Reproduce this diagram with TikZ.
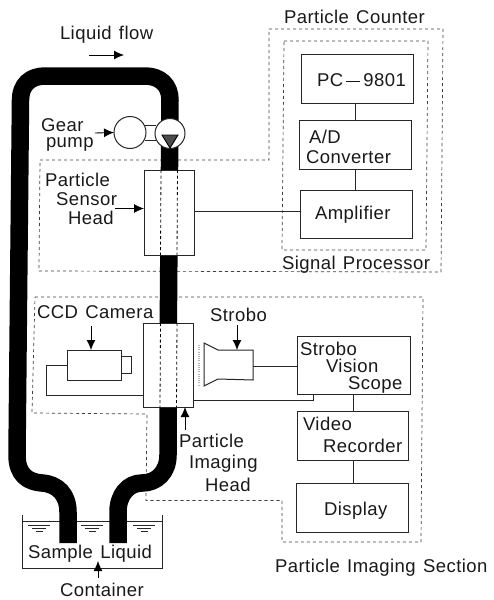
\documentclass[tikz,border=0pt]{standalone}
\usepackage{fontspec}
\setmainfont{Liberation Sans}[LetterSpace=2.5,WordSpace=1.3]
\usetikzlibrary{arrows.meta}
\tikzset{
 lbl/.style={anchor=base west,inner sep=0pt,outer sep=0pt,font=\fontsize{18.5}{22}\selectfont,text=black!90},
 blockbox/.style={draw=black!85,line width=1pt,fill=white,inner sep=0pt,outer sep=0pt},
 dashbox/.style={draw=black!75,line width=.7pt,dash pattern=on 3.2pt off 2.8pt},
 pipe/.style={draw=black,line width=17.5pt,line cap=butt,line join=round},
 conn/.style={draw=black!85,line width=.9pt},
 arr/.style={draw=black,line width=.9pt,-{Latex[length=10pt,width=9pt]}},
 ripple/.style={draw=black!85,line width=.8pt},
 bore/.style={draw=black,line width=.8pt,dash pattern=on 3pt off 2.5pt},
}
\begin{document}
\begin{tikzpicture}[x=1pt,y=-1pt]
\useasboundingbox (0,0) rectangle (494,600);
% dashed enclosures
\draw[dashbox] (40,160) -- (269,160) -- (269,29) -- (443,29) -- (441,272) -- (39,271) -- cycle;
\draw[dashbox] (284,41) -- (428,41) -- (426,250) -- (282,250) -- cycle;
\draw[dashbox] (35,297) -- (423,297) -- (421,542) -- (282,542) -- (282,500.5) -- (146,500.5) -- (147,414) -- (32,413) -- cycle;
% container
\coordinate (cTL) at (22,515); \coordinate (cBL) at (22,568);
\coordinate (cTR) at (162,515); \coordinate (cBR) at (162,568);
\draw[conn] (cTL) -- (cBL) -- (cBR) -- (cTR);
\draw[conn] (22,521) -- (162,521);
\foreach \c in {39,92,144}{
 \draw[ripple] (\c-11,525) -- (\c+11,525);
 \draw[ripple] (\c-7,528) -- (\c+7,528);
 \draw[ripple] (\c-3.5,531) -- (\c+3.5,531);
}
% pipe
\draw[pipe] (68,543) -- (68,512) .. controls (68,495) and (58,484) .. (42,483)
 .. controls (28,482) and (17,475) .. (17,455) -- (18.5,300) -- (20.5,100)
 .. controls (20.5,85) and (30,76) .. (45,76) -- (145,76)
 .. controls (160,76) and (170,85) .. (170,100) -- (168.5,300) -- (168,455)
 .. controls (168,472) and (157,483) .. (142,483)
 .. controls (128,483) and (118,495) .. (118,512) -- (118,543);
% pump
\node[blockbox,circle,minimum size=32pt] (pumpL) at (130,132.5) {};
\draw[conn] (145,125) -- (156,125);
\draw[conn] (145,140) -- (156,140);
\node[blockbox,circle,minimum size=30pt] (pumpR) at (170,133.5) {};
\fill[black!70] (162,135) -- (178,135) -- (170,148) -- cycle;
\draw[black,line width=.9pt] (162,135) -- (178,135) -- (170,148) -- cycle;
% heads
\node[blockbox,minimum width=50pt,minimum height=85pt] (sensor) at (169,212.5) {};
\node[blockbox,minimum width=50pt,minimum height=84pt] (imaging) at (168.5,365) {};
\draw[bore] (161,170) -- (160.5,255);
\draw[bore] (177.5,170) -- (177,255);
\draw[bore] (160.5,323) -- (160,407);
\draw[bore] (177,323) -- (176.5,407);
% camera
\node[blockbox,minimum width=54pt,minimum height=30pt] (cam) at (94,365) {};
\node[blockbox,minimum width=10pt,minimum height=17pt,anchor=west] (lens) at (cam.east |- 0,364.5) {};
\draw[conn] (cam.west) -- (46,365) -- (46,395.5) -- (imaging.west |- 0,395.5);
% strobo lamp
\draw[blockbox] (204,343) -- (218,350) -- (253,350) -- (253,380) -- (218,379) -- (204,386) -- cycle;
\coordinate (lampR) at (253,366.5);
\draw[black!30,line width=1.6pt,dash pattern=on 1pt off 1.2pt] (199,345) -- (199,386);
% processors
\node[blockbox,minimum width=112pt,minimum height=49pt] (pc) at (357,78.5) {};
\node[blockbox,minimum width=112pt,minimum height=49pt] (ad) at (355,144.5) {};
\node[blockbox,minimum width=112pt,minimum height=48pt] (amp) at (356,214) {};
\node[blockbox,minimum width=113pt,minimum height=58pt] (scope) at (353.5,365) {};
\node[blockbox,minimum width=111pt,minimum height=49pt] (video) at (352.5,435.5) {};
\node[blockbox,minimum width=112pt,minimum height=49pt] (display) at (352,508) {};
\draw[conn] (pc.south -| 355,0) -- (ad.north);
\draw[conn] (ad.south) -- (amp.north -| 355,0);
\draw[conn] (sensor.east |- 0,211) -- (amp.west |- 0,211);
\draw[conn] (lampR) -- (scope.west |- lampR);
\draw[conn] (imaging.east |- 0,400) -- (313,400) -- (313,394);
\draw[conn] (353,394) -- (video.north -| 353,0);
\draw[conn] (353,460) -- (display.north -| 353,0);
% labels
\node[lbl] (tFlow) at (60,39) {Liquid flow};
\node[lbl] (tGear) at (41,131) {Gear};
\node[lbl] (tPump) at (46,147) {pump};
\node[lbl] (tP1) at (45,186) {Particle};
\node[lbl] (tP2) at (56,205) {Sensor};
\node[lbl] (tP3) at (68,224) {Head};
\node[lbl] (tCounter) at (284,23) {Particle Counter};
\node[lbl] (tSignal) at (282,269) {Signal Processor};
\node[lbl] (tPC) at (317,86) {PC\,\raisebox{4pt}{\rule{14pt}{1pt}}\,9801};
\node[lbl] (tAD) at (309,143) {A/D};
\node[lbl] (tConv) at (306,163) {Converter};
\node[lbl] (tAmp) at (315,219) {Amplifier};
\node[lbl] (tCCD) at (37,318) {CCD Camera};
\node[lbl] (tStrobo) at (210,321) {Strobo};
\node[lbl] (tS1) at (300,355) {Strobo};
\node[lbl] (tS2) at (326,372) {Vision};
\node[lbl] (tS3) at (348,389) {Scope};
\node[lbl] (tV1) at (303,430) {Video};
\node[lbl] (tV2) at (323,452) {Recorder};
\node[lbl] (tDisp) at (324,515) {Display};
\node[lbl] (tH1) at (179,447) {Particle};
\node[lbl] (tH2) at (189,468) {Imaging};
\node[lbl] (tH3) at (205,491) {Head};
\node[lbl] (tSec) at (275,572) {Particle Imaging Section};
\node[lbl] (tSample) at (28,558) {Sample Liquid};
\node[lbl] (tCont) at (60,596) {Container};
% arrows
\coordinate (fA) at (89,55); \coordinate (fB) at (124,55);
\coordinate (contTip) at (98,561);
\draw[arr] (fA) -- (fB);
\draw[arr] (95,133) -- (pumpL.west);
\draw[arr] (115,208.5) -- (sensor.west |- 0,208.5);
\draw[arr] (91,326) -- (cam.north -| 91,0);
\draw[arr] (237,325) -- (237,350);
\draw[arr] (185,430) -- (imaging.south -| 185,0);
\draw[arr] (98,578) -- (contTip);
\end{tikzpicture}
\end{document}
